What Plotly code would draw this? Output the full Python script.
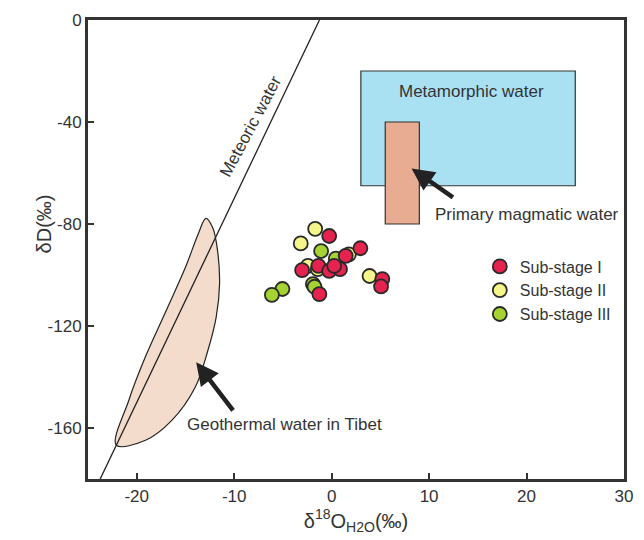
import plotly.graph_objects as go

# --- Sample data: δ18O(H2O) and δD (‰) per sub-stage ---
stage1_o = [-0.25, 2.95, 1.44, -3.03, -1.36, -0.25, 0.86, 0.26, 5.2, 5.07, -1.26]
stage1_d = [-84.7, -89.5, -92.5, -98.1, -96.4, -98.4, -97.7, -96.4, -101.6, -104.5, -107.5]

stage2_o = [-1.69, -3.17, -2.43, -1.42, 1.77, 3.89]
stage2_d = [-81.9, -87.6, -96.4, -97.7, -91.9, -100.4]

stage3_o = [-1.08, 0.43, -1.92, -1.76, -5.05, -6.13]
stage3_d = [-90.6, -93.6, -103.6, -104.6, -105.5, -107.8]

# --- Reference fields ---
metamorphic_o = [3, 25]
metamorphic_d = [-65, -20]
magmatic_o = [5.5, 9]
magmatic_d = [-80, -40]

# Outline of the Tibetan geothermal water field
geo_o = [-22.1, -20.8, -19.1, -17.1, -15.0, -13.7, -12.9, -12.2, -11.7, -11.5,
         -11.85, -12.7, -14.0, -16.4, -19.1, -22.1]
geo_d = [-166.7, -149, -132, -115, -97, -84, -77.8, -81.5, -90.6, -103.6,
         -116.6, -129.6, -144, -157, -164.8, -166.7]

# Global meteoric water line: δD = 8·δ18O + 10
mwl_d = [-180, 0]
mwl_o = [(d - 10) / 8 for d in mwl_d]

x_ticks = [-20, -10, 0, 10, 20, 30]
y_ticks = [0, -40, -80, -120, -160]

FONT = "Liberation Sans, Arial, sans-serif"
INK = "#333333"

fig = go.Figure()

# Metamorphic water box, then primary magmatic water box over it
fig.add_shape(type="rect", x0=metamorphic_o[0], x1=metamorphic_o[1],
              y0=metamorphic_d[0], y1=metamorphic_d[1],
              fillcolor="#A9E1F3", line=dict(color=INK, width=1.2), layer="below")
fig.add_shape(type="rect", x0=magmatic_o[0], x1=magmatic_o[1],
              y0=magmatic_d[0], y1=magmatic_d[1],
              fillcolor="#E8AC93", line=dict(color=INK, width=1.2), layer="below")

# Geothermal field
fig.add_trace(go.Scatter(x=geo_o, y=geo_d, mode="lines", fill="toself",
                         fillcolor="#F3DCCB", line=dict(color="#222222", width=1.2, shape="spline"),
                         showlegend=False, hoverinfo="skip"))

# Meteoric water line
fig.add_trace(go.Scatter(x=mwl_o, y=mwl_d, mode="lines",
                         line=dict(color="#222222", width=1.3),
                         showlegend=False, hoverinfo="skip"))

marker_line = dict(color="#2a2a2a", width=1.8)
fig.add_trace(go.Scatter(x=stage2_o, y=stage2_d, mode="markers", name="Sub-stage II",
                         marker=dict(size=14, color="#F4F68A", line=marker_line), legendrank=2))
fig.add_trace(go.Scatter(x=stage3_o, y=stage3_d, mode="markers", name="Sub-stage III",
                         marker=dict(size=14, color="#A5D332", line=marker_line), legendrank=3))
fig.add_trace(go.Scatter(x=stage1_o, y=stage1_d, mode="markers", name="Sub-stage I",
                         marker=dict(size=14, color="#E5234E", line=marker_line), legendrank=1))

label_font = dict(family=FONT, size=17, color=INK)
fig.add_annotation(x=14.4, y=-28.1, text="Metamorphic water", showarrow=False, font=label_font)
fig.add_annotation(x=20.0, y=-76.1, text="Primary magmatic water", showarrow=False, font=label_font)
fig.add_annotation(x=-4.8, y=-158.5, text="Geothermal water in Tibet", showarrow=False, font=label_font)
fig.add_annotation(x=-8.3, y=-41.8, text="Meteoric water", showarrow=False, textangle=-62,
                   font=label_font)

# Pointer arrows
fig.add_annotation(x=8.2, y=-58.2, ax=12.6, ay=-70.0, axref="x", ayref="y",
                   showarrow=True, arrowhead=2, arrowsize=1.0, arrowwidth=4.5,
                   arrowcolor="#222222", text="")
fig.add_annotation(x=-13.9, y=-134.2, ax=-10.0, ay=-153.7, axref="x", ayref="y",
                   showarrow=True, arrowhead=2, arrowsize=1.0, arrowwidth=4.5,
                   arrowcolor="#222222", text="")

# Vertical axis title
fig.add_annotation(xref="paper", yref="paper", x=-0.106, y=0.555, text="δD(‰)",
                   textangle=-90, showarrow=False,
                   font=dict(family=FONT, size=20, color=INK))

axis_common = dict(showline=True, mirror=True, linecolor=INK, linewidth=3,
                   ticks="inside", ticklen=6, tickwidth=1.5, tickcolor=INK,
                   showgrid=False, zeroline=False,
                   tickfont=dict(family=FONT, size=17, color=INK))

fig.update_xaxes(range=[-25, 30], tickvals=x_ticks, ticktext=[str(v) for v in x_ticks],
                 title=dict(text="δ<sup>18</sup>O<sub>H2O</sub>(‰)", standoff=6,
                            font=dict(family=FONT, size=20, color=INK)),
                 **axis_common)
fig.update_yaxes(range=[-180, 0], tickvals=y_ticks, ticktext=[str(v) for v in y_ticks],
                 **axis_common)

fig.update_layout(
    width=644, height=540,
    margin=dict(l=88, r=11, t=18, b=61),
    plot_bgcolor="white", paper_bgcolor="white",
    legend=dict(x=0.731, y=0.5, xanchor="left", yanchor="top",
                bgcolor="rgba(0,0,0,0)", font=dict(family=FONT, size=16, color=INK),
                tracegroupgap=2),
)

fig.write_html("out.html")
